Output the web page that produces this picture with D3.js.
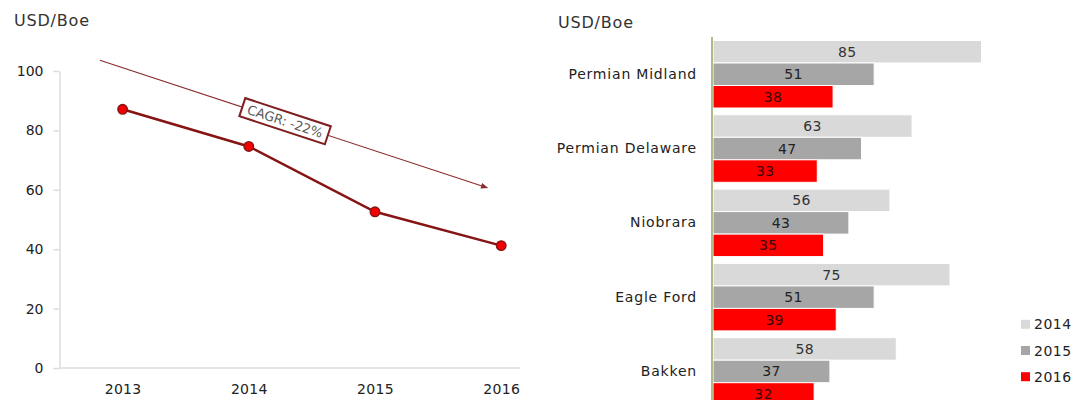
<!DOCTYPE html>
<html>
<head>
<meta charset="utf-8">
<script src="https://cdn.jsdelivr.net/npm/d3@7"></script>
<style>
  body { margin: 0; background: #fff; }
  text { font-family: "DejaVu Sans", Verdana, sans-serif; }
</style>
</head>
<body>
<div id="chart"></div>
<script>
// Left chart data.
const years = [2013, 2014, 2015, 2016];
const cost = [87.1, 74.6, 52.6, 41.2];
const yTicks = [0, 20, 40, 60, 80, 100];
// CAGR trend arrow, in data units (year, USD/Boe).
const trendYears = [2012.82, 2015.89];
const trendValues = [103.6, 60.7];
const trendLabel = "CAGR: -22%";

// Right chart data.
const basins = ["Permian Midland", "Permian Delaware", "Niobrara", "Eagle Ford", "Bakken"];
const series = ["2014", "2015", "2016"];
const v2014 = [85, 63, 56, 75, 58];
const v2015 = [51, 47, 43, 51, 37];
const v2016 = [38, 33, 35, 39, 32];

// Colour codes.
const lineColor = "#861414";
const seriesColors = ["#d9d9d9", "#a6a6a6", "#ff0000"];
const labelColors = ["#333333", "#222222", "#3a0808"];
const textColor = "#222";
const gridColor = "#dcdcdc";

const svg = d3.select("#chart")
  .append("svg")
    .attr("width", 1086)
    .attr("height", 400);

// ---------- Left: line chart ----------
const plotLeft = 59.5, plotRight = 520;
const step = 126.2;

const x = d3.scaleLinear()
  .domain([2013, 2016])
  .range([plotLeft + step / 2, plotLeft + 3.5 * step]);

const y = d3.scaleLinear()
  .domain([0, 100])
  .range([368, 71]);

svg.append("text")
  .attr("x", 14).attr("y", 26)
  .style("font-size", "16px")
  .style("letter-spacing", "0.8px")
  .style("fill", "#333")
  .text("USD/Boe");

// Axis lines.
svg.append("line")
  .attr("x1", plotLeft).attr("x2", plotRight)
  .attr("y1", y(0)).attr("y2", y(0))
  .style("stroke", gridColor)
  .style("stroke-width", 1.5);

svg.append("g")
  .attr("transform", "translate(" + plotLeft + ",0)")
  .call(d3.axisLeft(y).tickValues(yTicks).tickSize(6).tickSizeOuter(0).tickPadding(10))
  .call(g => g.selectAll("line, .domain").style("stroke", gridColor).style("stroke-width", 1.5))
  .selectAll("text")
    .style("font-size", "14px")
    .style("fill", textColor)
    .style("font-family", "DejaVu Sans, Verdana, sans-serif");

svg.append("g")
  .attr("transform", "translate(0," + y(0) + ")")
  .call(d3.axisBottom(x).tickValues(years).tickFormat(d3.format("d")).tickSize(0).tickPadding(16))
  .call(g => g.select(".domain").remove())
  .selectAll("text")
    .style("font-size", "14px")
    .style("letter-spacing", "0.3px")
    .style("fill", textColor)
    .style("font-family", "DejaVu Sans, Verdana, sans-serif");

// Trend arrow.
svg.append("defs")
  .append("marker")
    .attr("id", "arrow")
    .attr("viewBox", "0 0 10 10")
    .attr("refX", 9).attr("refY", 5)
    .attr("markerWidth", 10).attr("markerHeight", 7)
    .attr("markerUnits", "userSpaceOnUse")
    .attr("orient", "auto")
  .append("path")
    .attr("d", "M0,1 L10,5 L0,9 Z")
    .style("fill", "#8b2b2b");

const p0 = [x(trendYears[0]), y(trendValues[0])];
const p1 = [x(trendYears[1]), y(trendValues[1])];
svg.append("line")
  .attr("x1", p0[0]).attr("y1", p0[1])
  .attr("x2", p1[0]).attr("y2", p1[1])
  .style("stroke", "#8b2b2b")
  .style("stroke-width", 1.1)
  .attr("marker-end", "url(#arrow)");

const angle = Math.atan2(p1[1] - p0[1], p1[0] - p0[0]) * 180 / Math.PI;
const t = 0.478;
const lab = svg.append("g")
  .attr("transform", "translate(" + (p0[0] + t * (p1[0] - p0[0])) + "," + (p0[1] + t * (p1[1] - p0[1])) + ") rotate(" + angle + ")");
lab.append("rect")
  .attr("x", -45).attr("y", -9.5)
  .attr("width", 90).attr("height", 19)
  .style("fill", "#fff")
  .style("stroke", "#7f1f1f")
  .style("stroke-width", 2);
lab.append("text")
  .attr("text-anchor", "middle")
  .attr("dy", "0.36em")
  .style("font-size", "13px")
  .style("fill", "#595959")
  .text(trendLabel);

// The line and points.
const pts = years.map((yr, i) => ({year: yr, value: cost[i]}));
svg.append("path")
  .datum(pts)
  .attr("d", d3.line().x(d => x(d.year)).y(d => y(d.value)))
  .style("fill", "none")
  .style("stroke", lineColor)
  .style("stroke-width", 2.5);

svg.selectAll(".pt")
  .data(pts)
  .enter().append("circle")
    .attr("class", "pt")
    .attr("cx", d => x(d.year))
    .attr("cy", d => y(d.value))
    .attr("r", 4.8)
    .style("fill", "#f00000")
    .style("stroke", lineColor)
    .style("stroke-width", 1.3);

// ---------- Right: grouped bar chart ----------
const barLeft = 713;
const xb = d3.scaleLinear()
  .domain([0, 100])
  .range([barLeft, barLeft + 316]);

const yb = d3.scaleBand()
  .domain(basins)
  .range([40.5, 405.2])
  .paddingInner(0.0915)
  .paddingOuter(0)
  .align(0);

const ys = d3.scaleBand()
  .domain(series)
  .range([0, yb.bandwidth()]);

svg.append("text")
  .attr("x", 558).attr("y", 28)
  .style("font-size", "16px")
  .style("letter-spacing", "0.8px")
  .style("fill", "#333")
  .text("USD/Boe");

const values = [v2014, v2015, v2016];
const rows = [];
basins.forEach((b, i) => {
  series.forEach((s, j) => {
    rows.push({basin: b, series: s, idx: j, value: values[j][i]});
  });
});

const bars = svg.append("g");
bars.selectAll("rect")
  .data(rows)
  .enter().append("rect")
    .attr("x", xb(0))
    .attr("y", d => yb(d.basin) + ys(d.series))
    .attr("width", d => xb(d.value) - xb(0))
    .attr("height", ys.bandwidth())
    .style("fill", d => seriesColors[d.idx])
    .style("stroke", "#fff")
    .style("stroke-width", 1);

bars.selectAll("text")
  .data(rows)
  .enter().append("text")
    .attr("x", d => (xb(0) + xb(d.value)) / 2)
    .attr("y", d => yb(d.basin) + ys(d.series) + ys.bandwidth() / 2)
    .attr("dy", "0.36em")
    .attr("text-anchor", "middle")
    .style("font-size", "14px")
    .style("letter-spacing", "0.3px")
    .style("fill", d => labelColors[d.idx])
    .text(d => d.value);

// Category labels.
svg.append("g")
  .attr("transform", "translate(" + xb(0) + ",0)")
  .call(d3.axisLeft(yb).tickSize(0).tickPadding(16))
  .call(g => g.select(".domain").remove())
  .selectAll("text")
    .attr("y", ys("2015") + ys.bandwidth() / 2 - yb.bandwidth() / 2)
    .style("font-size", "14px")
    .style("letter-spacing", "0.8px")
    .style("fill", textColor)
    .style("font-family", "DejaVu Sans, Verdana, sans-serif");

// Green vertical axis.
svg.append("line")
  .attr("x1", xb(0) - 1).attr("x2", xb(0) - 1)
  .attr("y1", 37).attr("y2", 400)
  .style("stroke", "#77933c")
  .style("stroke-width", 1.2);

// Legend.
const legend = svg.append("g")
  .selectAll("g")
  .data(series)
  .enter().append("g")
    .attr("transform", (d, i) => "translate(1021," + (324.3 + i * 26.2) + ")");
legend.append("rect")
  .attr("x", 0).attr("y", -4.5)
  .attr("width", 9).attr("height", 9)
  .style("fill", (d, i) => seriesColors[i]);
legend.append("text")
  .attr("x", 13)
  .attr("dy", "0.36em")
  .style("font-size", "14px")
  .style("letter-spacing", "0.5px")
  .style("fill", textColor)
  .text(d => d);
</script>
</body>
</html>
